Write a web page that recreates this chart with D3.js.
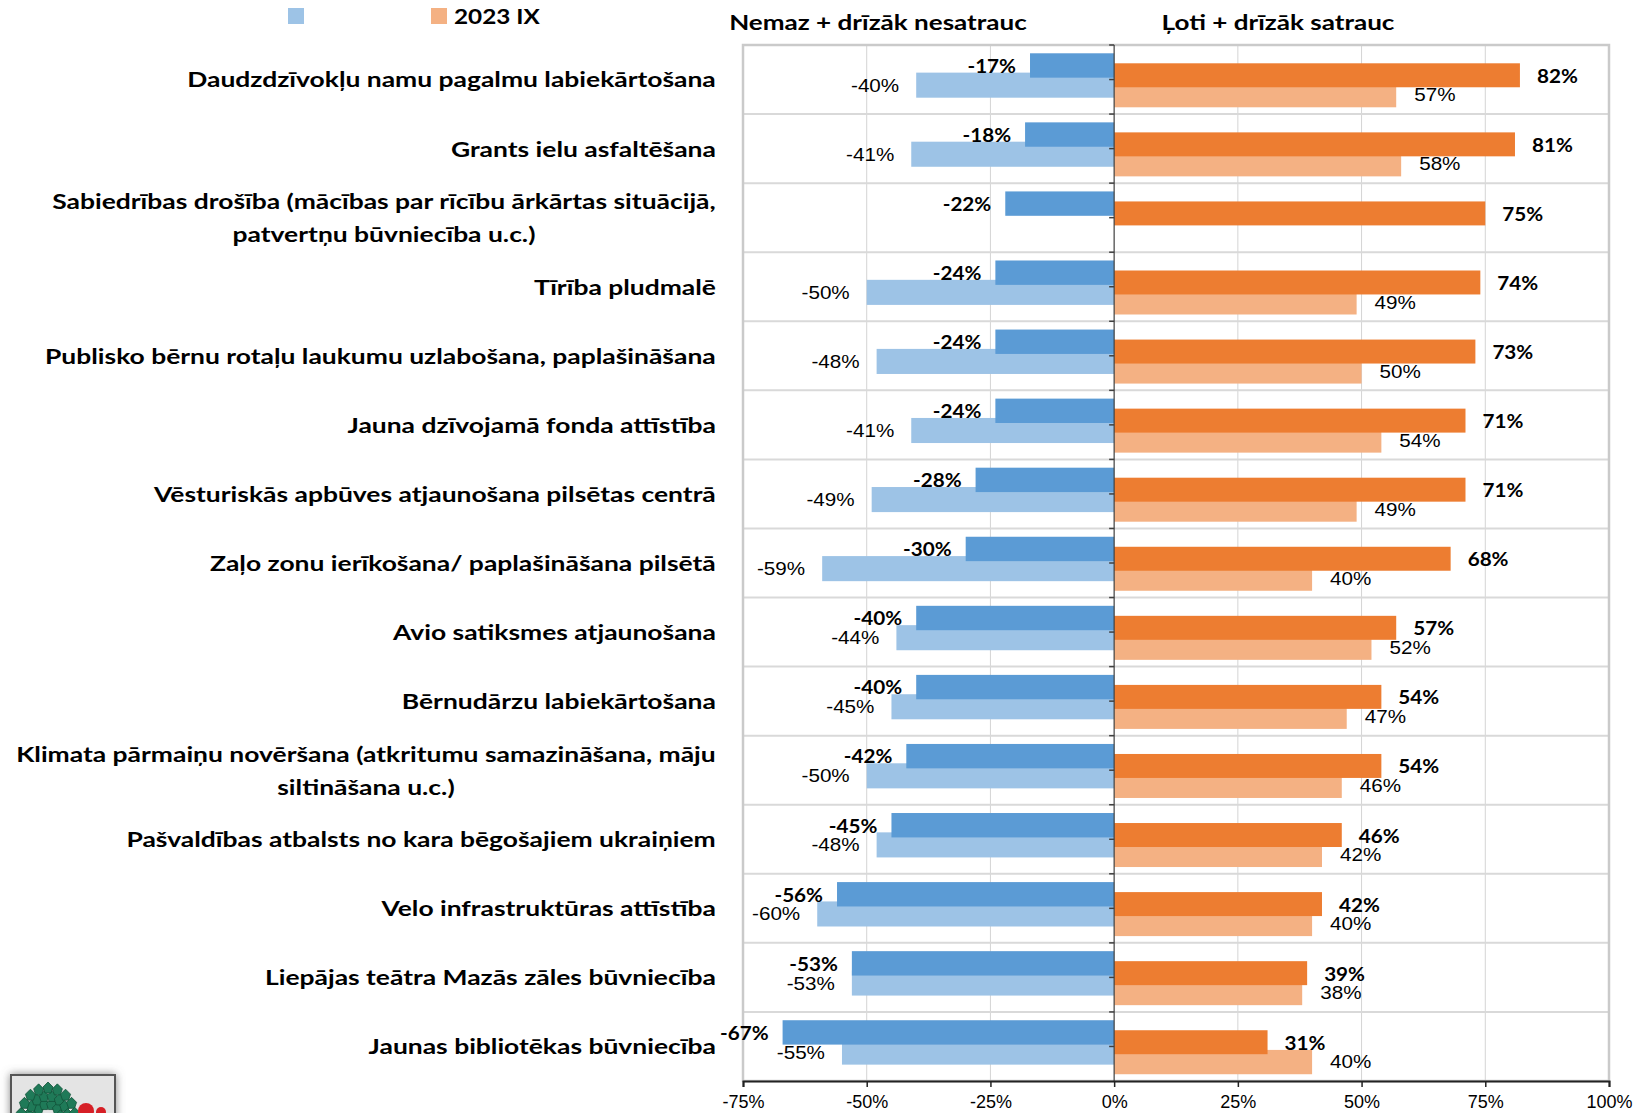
<!DOCTYPE html>
<html>
<head>
<meta charset="utf-8">
<script src="https://cdn.jsdelivr.net/npm/d3@7"></script>
<style>
  body { margin: 0; background: #fff; }
  svg { display: block; }
  .cat { font-family: Lato, "Open Sans", sans-serif; font-weight: 700; font-size: 21.5px; fill: #000; }
  .lbl-dark { font-family: Lato, "Open Sans", sans-serif; font-weight: 700; font-size: 19.5px; fill: #000; }
  .lbl-light { font-family: "Liberation Sans", Arial, sans-serif; font-size: 17.5px; fill: #000; }
  .x.axis text { font-family: "Liberation Sans", Arial, sans-serif; font-size: 18px; fill: #000; }
</style>
</head>
<body>
<svg class="chart"></svg>
<script>
// categories (top to bottom), "\n" marks where the label wraps
const categories = [
    "Daudzdzīvokļu namu pagalmu labiekārtošana",
    "Grants ielu asfaltēšana",
    "Sabiedrības drošība (mācības par rīcību ārkārtas situācijā,\npatvertņu būvniecība u.c.)",
    "Tīrība pludmalē",
    "Publisko bērnu rotaļu laukumu uzlabošana, paplašināšana",
    "Jauna dzīvojamā fonda attīstība",
    "Vēsturiskās apbūves atjaunošana pilsētas centrā",
    "Zaļo zonu ierīkošana/ paplašināšana pilsētā",
    "Avio satiksmes atjaunošana",
    "Bērnudārzu labiekārtošana",
    "Klimata pārmaiņu novēršana (atkritumu samazināšana, māju\nsiltināšana u.c.)",
    "Pašvaldības atbalsts no kara bēgošajiem ukraiņiem",
    "Velo infrastruktūras attīstība",
    "Liepājas teātra Mazās zāles būvniecība",
    "Jaunas bibliotēkas būvniecība"
];

// "Nemaz + drīzāk nesatrauc" (negative side)
const notWorriedNow = [-17, -18, -22, -24, -24, -24, -28, -30, -40, -40, -42, -45, -56, -53, -67];
const notWorried2023 = [-40, -41, null, -50, -48, -41, -49, -59, -44, -45, -50, -48, -60, -53, -55];

// "Ļoti + drīzāk satrauc" (positive side)
const worriedNow = [82, 81, 75, 74, 73, 71, 71, 68, 57, 54, 54, 46, 42, 39, 31];
const worried2023 = [57, 58, null, 49, 50, 54, 49, 40, 52, 47, 46, 42, 40, 38, 40];

const sideTitles = ["Nemaz + drīzāk nesatrauc", "Ļoti + drīzāk satrauc"];
const legendLabels = ["", "2023 IX"];
const xTicks = [-75, -50, -25, 0, 25, 50, 75, 100];

const colors = {
    negDark: "#5b9bd5",
    negLight: "#9dc3e6",
    posDark: "#ed7d31",
    posLight: "#f4b183"
};

const W = 1633, H = 1113;
const margin = { top: 45, bottom: 32, left: 743, right: 24 };
// the source picture is a bit wider than tall, text is stretched to match
const stretch = 1.23;

const svg = d3.select(".chart").attr("width", W).attr("height", H);

// Scales
const xscale = d3.scaleLinear().domain([-75, 100]).range([margin.left, W - margin.right]);
const yscale = d3.scaleBand().domain(categories).range([margin.top, H - margin.bottom]);
const bw = yscale.bandwidth();

// rows table built from the arrays
const rows = categories.map((c, i) => ({
    cat: c,
    negNow: notWorriedNow[i], neg23: notWorried2023[i],
    posNow: worriedNow[i], pos23: worried2023[i]
}));

// Grid: vertical lines at ticks
const grid = svg.append("g");
grid.selectAll("line.v").data(xTicks.filter(t => t !== 0 && t !== -75 && t !== 100)).join("line")
    .attr("x1", d => xscale(d)).attr("x2", d => xscale(d))
    .attr("y1", margin.top).attr("y2", H - margin.bottom)
    .attr("stroke", "#d4d4d4").attr("stroke-width", 1);
// horizontal band separators
grid.selectAll("line.h").data(categories.slice(1)).join("line")
    .attr("x1", xscale(-75)).attr("x2", xscale(100))
    .attr("y1", d => yscale(d)).attr("y2", d => yscale(d))
    .attr("stroke", "#d9d9d9").attr("stroke-width", 2);
// plot border
grid.append("rect")
    .attr("x", xscale(-75)).attr("y", margin.top)
    .attr("width", xscale(100) - xscale(-75)).attr("height", H - margin.bottom - margin.top)
    .attr("fill", "none").attr("stroke", "#cacaca").attr("stroke-width", 2.5);

// Bars - lighter (2023) first, darker drawn on top
function bars(key, color, y0, y1) {
    svg.append("g").selectAll("rect")
        .data(rows.filter(d => d[key] != null))
        .join("rect")
        .attr("x", d => Math.min(xscale(0), xscale(d[key])))
        .attr("width", d => Math.abs(xscale(d[key]) - xscale(0)))
        .attr("y", d => yscale(d.cat) + bw * y0)
        .attr("height", bw * (y1 - y0))
        .attr("fill", color);
}
bars("neg23", colors.negLight, 0.40, 0.763);
bars("negNow", colors.negDark, 0.12, 0.473);
bars("pos23", colors.posLight, 0.55, 0.902);
bars("posNow", colors.posDark, 0.265, 0.612);

// Zero axis with small ticks
const zero = svg.append("g");
zero.append("line")
    .attr("x1", xscale(0)).attr("x2", xscale(0))
    .attr("y1", margin.top).attr("y2", H - margin.bottom)
    .attr("stroke", "#404040").attr("stroke-width", 1.2);
const zeroTicks = [];
categories.forEach(c => { zeroTicks.push(yscale(c)); zeroTicks.push(yscale(c) + bw / 2); });
zero.selectAll("line.t").data(zeroTicks).join("line")
    .attr("x1", xscale(0) - 5).attr("x2", xscale(0))
    .attr("y1", d => d).attr("y2", d => d)
    .attr("stroke", "#404040").attr("stroke-width", 1.5);

// Bottom axis
const xaxis = d3.axisBottom(xscale).tickValues(xTicks).tickFormat(d => d + "%").tickSize(6).tickPadding(8);
const g_xaxis = svg.append("g").attr("class", "x axis")
    .attr("transform", `translate(0,${H - margin.bottom})`)
    .call(xaxis);
g_xaxis.select(".domain").attr("stroke", "#222").attr("stroke-width", 2);
g_xaxis.selectAll(".tick line").attr("stroke", "#222").attr("stroke-width", 1.5);

// Value labels (stretched around their anchor point)
function labels(key, cls, offset, dy, sx) {
    svg.append("g").selectAll("text")
        .data(rows.filter(d => d[key] != null))
        .join("text")
        .attr("class", cls)
        .attr("transform", d => {
            const x = xscale(d[key]) + (d[key] < 0 ? -offset : offset);
            const y = yscale(d.cat) + bw * dy;
            return `translate(${x},${y}) scale(${sx},1)`;
        })
        .attr("dominant-baseline", "central")
        .attr("text-anchor", d => d[key] < 0 ? "end" : "start")
        .text(d => d[key] + "%");
}
labels("neg23", "lbl-light", 17, 0.59, 1.18);
labels("pos23", "lbl-light", 18, 0.73, 1.18);
labels("negNow", "lbl-dark", 14, 0.29, 1.06);
labels("posNow", "lbl-dark", 17, 0.435, 1.06);

// Category labels, right aligned block, wrapped lines centered
const labelRight = 716;
const lineH = 33;
const cats = svg.append("g").selectAll("text")
    .data(categories)
    .join("text")
    .attr("class", "cat")
    .attr("dominant-baseline", "central");
cats.each(function (c) {
    const lines = c.split("\n");
    const t = d3.select(this);
    const spans = lines.map(l => t.append("tspan").text(l));
    const widths = spans.map(s => s.node().getComputedTextLength());
    const maxW = d3.max(widths);
    const cy = yscale(c) + bw / 2 - 1 - (lines.length - 1) * lineH / 2;
    t.attr("transform", `translate(${labelRight},${cy}) scale(${stretch},1)`);
    spans.forEach((s, i) => {
        s.attr("x", -maxW / 2).attr("y", i * lineH).attr("text-anchor", "middle");
    });
});

// Side titles
sideTitles.forEach((s, i) => {
    svg.append("text").attr("class", "cat")
        .attr("transform", `translate(${[878, 1278][i]},30) scale(${stretch * 0.985},1)`)
        .attr("text-anchor", "middle").text(s);
});

// Legend
const legend = svg.append("g");
const legendX = [288, 431];
const legendColors = [colors.negLight, colors.posLight];
legendLabels.forEach((l, i) => {
    legend.append("rect").attr("x", legendX[i]).attr("y", 8).attr("width", 16).attr("height", 16)
        .attr("fill", legendColors[i]);
    legend.append("text").attr("class", "cat")
        .attr("transform", `translate(${legendX[i] + 23},24) scale(${stretch * 0.92},1)`).text(l);
});

// Small logo box bottom-left (decoration)
const logo = svg.append("g");
const defs = svg.append("defs");
defs.append("filter").attr("id", "shadow").attr("x", "-30%").attr("y", "-30%").attr("width", "160%").attr("height", "160%")
    .append("feDropShadow").attr("dx", 0).attr("dy", 0).attr("stdDeviation", 4).attr("flood-color", "#666").attr("flood-opacity", 0.8);
logo.append("rect").attr("x", 11).attr("y", 1075).attr("width", 104).attr("height", 60)
    .attr("fill", "#e4e4e4").attr("stroke", "#555").attr("stroke-width", 2).attr("filter", "url(#shadow)");
// fan of linden leaves
const leaves = [];
[[14, 6], [22, 8], [30, 9]].forEach(([r, n]) => {
    for (let k = 0; k < n; k++) {
        const a = -Math.PI * 0.95 + k * (Math.PI * 0.9) / (n - 1);
        leaves.push([48 + r * Math.cos(a) * 0.9, 1118 + r * Math.sin(a)]);
    }
});
logo.selectAll("path.leaf").data(leaves).join("path")
    .attr("d", d => `M${d[0]},${d[1] - 6} L${d[0] + 5},${d[1] - 1} L${d[0] + 3},${d[1] + 5} L${d[0] - 3},${d[1] + 5} L${d[0] - 5},${d[1] - 1} Z`)
    .attr("fill", "#1f7a58").attr("stroke", "#115238").attr("stroke-width", 0.8);
logo.append("circle").attr("cx", 86).attr("cy", 1111).attr("r", 8).attr("fill", "#d61f26");
logo.append("circle").attr("cx", 101).attr("cy", 1112).attr("r", 5).attr("fill", "#d61f26");
</script>
</body>
</html>
